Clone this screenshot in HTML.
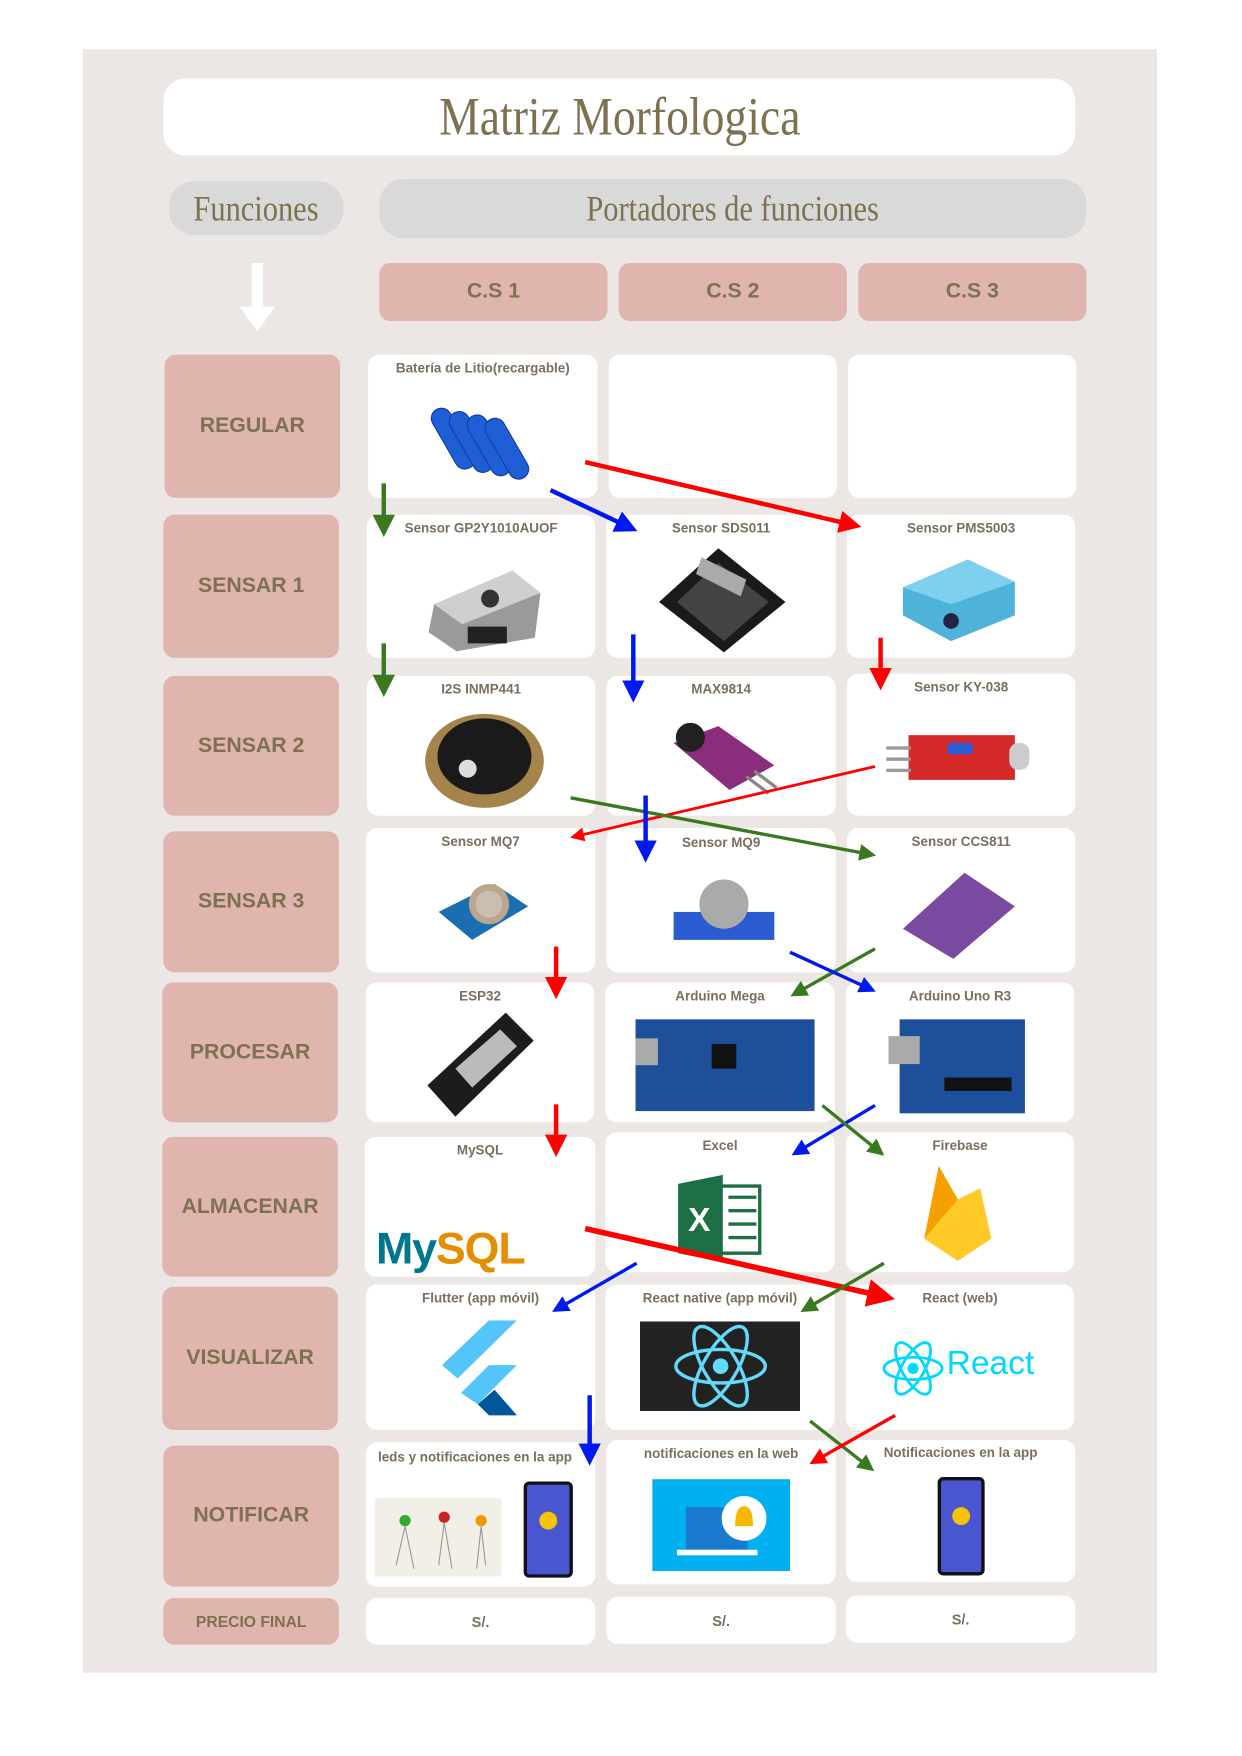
<!DOCTYPE html>
<html><head><meta charset="utf-8"><style>
html,body{margin:0;padding:0;background:#fff;width:1242px;height:1755px;overflow:hidden}
#s{position:absolute;left:0;top:0;width:1110px;height:1569px;transform:scale(1.11892);transform-origin:0 0;font-family:"Liberation Sans",sans-serif}
.a{position:absolute;box-sizing:border-box}
.panel{left:74px;top:44px;width:960px;height:1451px;background:#ece7e5}
.w{background:#fff;border-radius:10px}
.p{background:#e0b5ae;border-radius:10px;color:#7d7150;font-weight:bold;font-size:19px;display:flex;align-items:center;justify-content:center}
.g{background:#d9d9d9;border-radius:22px;color:#7d7150;font-family:"Liberation Serif",serif;font-size:32px;display:flex;align-items:center;justify-content:center;transform-origin:center}
.lb{position:absolute;left:0;right:0;top:5px;text-align:center;font-size:12px;font-weight:bold;color:#7a6f5f}
.c{position:absolute}
</style></head><body><div id="s">
<div class="a panel"></div>
<div class="a w" style="left:146px;top:70px;width:815px;height:69px;border-radius:20px;display:flex;align-items:center;justify-content:center;font-family:'Liberation Serif',serif;font-size:48px;color:#7d7150"><span style="display:inline-block;transform:scaleX(0.85)">Matriz Morfologica</span></div>
<div class="a g" style="left:151px;top:162px;width:156px;height:48px"><span style="display:inline-block;transform:scaleX(0.85)">Funciones</span></div>
<div class="a g" style="left:339px;top:160px;width:632px;height:53px"><span style="display:inline-block;transform:scaleX(0.85)">Portadores de funciones</span></div>
<div class="a" style="left:225px;top:235px;width:10px;height:40px;background:#fff"></div>
<div class="a" style="left:214px;top:274px;width:0;height:0;border-left:16px solid transparent;border-right:16px solid transparent;border-top:22px solid #fff"></div>
<div class="a p" style="left:339px;top:235px;width:204px;height:52px">C.S 1</div>
<div class="a p" style="left:553px;top:235px;width:204px;height:52px">C.S 2</div>
<div class="a p" style="left:767px;top:235px;width:204px;height:52px">C.S 3</div>

<div class="a p" style="left:147px;top:317px;width:157px;height:128px">REGULAR</div>
<div class="a p" style="left:146px;top:460px;width:157px;height:128px">SENSAR 1</div>
<div class="a p" style="left:146px;top:604px;width:157px;height:125px">SENSAR 2</div>
<div class="a p" style="left:146px;top:743px;width:157px;height:126px">SENSAR 3</div>
<div class="a p" style="left:145px;top:878px;width:157px;height:125px">PROCESAR</div>
<div class="a p" style="left:145px;top:1016px;width:157px;height:125px">ALMACENAR</div>
<div class="a p" style="left:145px;top:1150px;width:157px;height:128px">VISUALIZAR</div>
<div class="a p" style="left:146px;top:1292px;width:157px;height:126px">NOTIFICAR</div>
<div class="a p" style="left:146px;top:1428px;width:157px;height:42px;font-size:14px">PRECIO FINAL</div>

<!-- row 1 -->
<div class="a w" style="left:329px;top:317px;width:205px;height:128px"><div class="lb">Batería de Litio(recargable)</div>
<svg class="c" style="left:55px;top:30px" width="100" height="90"><g fill="#1f5fd6" stroke="#0f3ca0" stroke-width="1"><rect x="12" y="15" width="18" height="60" rx="9" transform="rotate(-30 21 45)"/><rect x="28" y="18" width="18" height="60" rx="9" transform="rotate(-30 37 48)"/><rect x="44" y="21" width="18" height="60" rx="9" transform="rotate(-30 53 51)"/><rect x="60" y="24" width="18" height="60" rx="9" transform="rotate(-30 69 54)"/></g></svg></div>
<div class="a w" style="left:544px;top:317px;width:204px;height:128px"></div>
<div class="a w" style="left:758px;top:317px;width:204px;height:128px"></div>
<!-- row 2 -->
<div class="a w" style="left:328px;top:460px;width:204px;height:128px"><div class="lb">Sensor GP2Y1010AUOF</div>
<svg class="c" style="left:50px;top:30px" width="110" height="95"><polygon points="10,50 80,20 105,40 100,80 30,92 5,75" fill="#9a9a9a"/><polygon points="10,50 80,20 105,40 35,68" fill="#cfcfcf"/><circle cx="60" cy="45" r="8" fill="#333"/><rect x="40" y="70" width="35" height="15" fill="#222"/></svg></div>
<div class="a w" style="left:542px;top:460px;width:205px;height:128px"><div class="lb">Sensor SDS011</div>
<svg class="c" style="left:45px;top:28px" width="120" height="98"><polygon points="55,2 115,50 60,95 2,50" fill="#1a1a1a"/><polygon points="55,15 100,50 60,85 18,50" fill="#444"/><polygon points="40,10 80,30 75,45 35,25" fill="#aaa"/></svg></div>
<div class="a w" style="left:757px;top:460px;width:204px;height:128px"><div class="lb">Sensor PMS5003</div>
<svg class="c" style="left:48px;top:35px" width="105" height="80"><polygon points="2,30 60,5 102,25 102,55 45,78 2,55" fill="#4fb3d9"/><polygon points="2,30 60,5 102,25 45,45" fill="#7fd0ee"/><circle cx="45" cy="60" r="7" fill="#224"/></svg></div>
<!-- row 3 -->
<div class="a w" style="left:328px;top:604px;width:204px;height:125px"><div class="lb">I2S INMP441</div>
<svg class="c" style="left:50px;top:28px" width="110" height="92"><ellipse cx="55" cy="48" rx="53" ry="42" fill="#a5844b"/><ellipse cx="55" cy="44" rx="42" ry="34" fill="#1a1a1a"/><circle cx="40" cy="55" r="8" fill="#ddd"/></svg></div>
<div class="a w" style="left:542px;top:604px;width:205px;height:125px"><div class="lb">MAX9814</div>
<svg class="c" style="left:50px;top:30px" width="110" height="80"><polygon points="10,30 50,15 100,50 60,72" fill="#8a2d7a"/><circle cx="25" cy="25" r="13" fill="#222"/><g stroke="#888" stroke-width="3"><line x1="75" y1="60" x2="95" y2="75"/><line x1="82" y1="55" x2="102" y2="70"/></g></svg></div>
<div class="a w" style="left:757px;top:602px;width:204px;height:127px"><div class="lb">Sensor KY-038</div>
<svg class="c" style="left:35px;top:50px" width="130" height="50"><rect x="20" y="5" width="95" height="40" fill="#d42a2a"/><rect x="0" y="15" width="22" height="3" fill="#999"/><rect x="0" y="25" width="22" height="3" fill="#999"/><rect x="0" y="35" width="22" height="3" fill="#999"/><rect x="110" y="12" width="18" height="24" rx="8" fill="#ccc"/><rect x="55" y="12" width="22" height="10" fill="#2c5fd6"/></svg></div>
<!-- row 4 -->
<div class="a w" style="left:327px;top:740px;width:205px;height:129px"><div class="lb">Sensor MQ7</div>
<svg class="c" style="left:60px;top:35px" width="100" height="80"><polygon points="5,40 55,15 85,35 35,65" fill="#1b6fb0"/><circle cx="50" cy="33" r="18" fill="#b8a78a"/><circle cx="50" cy="33" r="12" fill="#c9bfb0"/></svg></div>
<div class="a w" style="left:542px;top:740px;width:205px;height:129px"><div class="lb" style="top:6px">Sensor MQ9</div>
<svg class="c" style="left:55px;top:40px" width="100" height="70"><rect x="5" y="35" width="90" height="25" fill="#2a5bd0"/><ellipse cx="50" cy="28" rx="22" ry="22" fill="#aaa"/></svg></div>
<div class="a w" style="left:757px;top:740px;width:204px;height:129px"><div class="lb">Sensor CCS811</div>
<svg class="c" style="left:45px;top:35px" width="110" height="85"><polygon points="5,55 60,5 105,35 50,82" fill="#7a4aa0"/></svg></div>
<!-- row 5 -->
<div class="a w" style="left:327px;top:878px;width:204px;height:125px"><div class="lb">ESP32</div>
<svg class="c" style="left:50px;top:22px" width="105" height="100"><polygon points="5,70 75,5 100,30 30,98" fill="#1c1c1c"/><polygon points="30,55 70,20 85,35 45,72" fill="#bbb"/></svg></div>
<div class="a w" style="left:541px;top:878px;width:205px;height:125px"><div class="lb">Arduino Mega</div>
<svg class="c" style="left:25px;top:30px" width="165" height="88"><rect x="2" y="3" width="160" height="82" fill="#1e4f9a"/><rect x="70" y="25" width="22" height="22" fill="#111"/><rect x="2" y="20" width="20" height="24" fill="#aaa"/></svg></div>
<div class="a w" style="left:756px;top:878px;width:204px;height:125px"><div class="lb">Arduino Uno R3</div>
<svg class="c" style="left:38px;top:30px" width="125" height="90"><rect x="10" y="3" width="112" height="84" fill="#1e4f9a"/><rect x="0" y="18" width="28" height="25" fill="#aaa"/><rect x="50" y="55" width="60" height="12" fill="#111"/></svg></div>
<!-- row 6 -->
<div class="a w" style="left:326px;top:1016px;width:206px;height:125px"><div class="lb" style="font-weight:bold">MySQL</div>
<div class="c" style="left:10px;top:78px;font-size:40px;font-weight:bold;color:#00758f;letter-spacing:-1px">My<span style="color:#e48e00">SQL</span></div></div>
<div class="a w" style="left:541px;top:1012px;width:205px;height:125px"><div class="lb">Excel</div>
<svg class="c" style="left:65px;top:38px" width="75" height="78"><rect x="35" y="10" width="38" height="60" fill="#fff" stroke="#1d7044" stroke-width="3"/><g stroke="#1d7044" stroke-width="3"><line x1="45" y1="20" x2="70" y2="20"/><line x1="45" y1="32" x2="70" y2="32"/><line x1="45" y1="44" x2="70" y2="44"/><line x1="45" y1="56" x2="70" y2="56"/></g><polygon points="0,8 40,0 40,78 0,70" fill="#1d7044"/><text x="9" y="50" fill="#fff" font-size="30" font-weight="bold" font-family="Liberation Sans">X</text></svg></div>
<div class="a w" style="left:756px;top:1012px;width:204px;height:125px"><div class="lb">Firebase</div>
<svg class="c" style="left:65px;top:30px" width="70" height="88"><polygon points="5,65 18,0 35,30 55,20 65,65 35,85" fill="#ffca28"/><polygon points="5,65 18,0 35,30" fill="#f6a000"/></svg></div>
<!-- row 7 -->
<div class="a w" style="left:327px;top:1148px;width:205px;height:130px"><div class="lb">Flutter (app móvil)</div>
<svg class="c" style="left:65px;top:32px" width="80" height="90"><polygon points="3,40 45,0 70,0 17,52" fill="#54c5f8"/><polygon points="20,65 45,40 70,40 35,75" fill="#54c5f8"/><polygon points="35,75 50,62 70,85 45,85" fill="#01579b"/></svg></div>
<div class="a w" style="left:541px;top:1148px;width:205px;height:130px"><div class="lb">React native (app móvil)</div>
<svg class="c" style="left:31px;top:33px" width="143" height="80"><rect width="143" height="80" fill="#222"/><g fill="none" stroke="#61dafb" stroke-width="3"><ellipse cx="72" cy="40" rx="40" ry="15"/><ellipse cx="72" cy="40" rx="40" ry="15" transform="rotate(60 72 40)"/><ellipse cx="72" cy="40" rx="40" ry="15" transform="rotate(-60 72 40)"/></g><circle cx="72" cy="40" r="7" fill="#61dafb"/></svg></div>
<div class="a w" style="left:756px;top:1148px;width:204px;height:130px"><div class="lb">React (web)</div>
<svg class="c" style="left:30px;top:45px" width="60" height="60"><g fill="none" stroke="#00d8ff" stroke-width="2.5"><ellipse cx="30" cy="30" rx="26" ry="10"/><ellipse cx="30" cy="30" rx="26" ry="10" transform="rotate(60 30 30)"/><ellipse cx="30" cy="30" rx="26" ry="10" transform="rotate(-60 30 30)"/></g><circle cx="30" cy="30" r="5" fill="#00d8ff"/></svg>
<div class="c" style="left:90px;top:54px;font-size:30px;color:#00d8ff">React</div></div>
<!-- row 8 -->
<div class="a w" style="left:327px;top:1289px;width:205px;height:129px"><div class="lb" style="top:6px;left:-10px">leds y notificaciones en la app</div>
<div class="c" style="left:8px;top:50px;width:113px;height:70px;background:#f1efe6"></div>
<svg class="c" style="left:15px;top:55px" width="105" height="60"><circle cx="20" cy="15" r="5" fill="#3a3"/><circle cx="55" cy="12" r="5" fill="#c22"/><circle cx="88" cy="15" r="5" fill="#e90"/><g stroke="#999"><line x1="20" y1="20" x2="12" y2="55"/><line x1="20" y1="20" x2="28" y2="58"/><line x1="55" y1="17" x2="50" y2="55"/><line x1="55" y1="17" x2="62" y2="58"/><line x1="88" y1="20" x2="84" y2="58"/><line x1="88" y1="20" x2="92" y2="55"/></g></svg>
<div class="c" style="left:141px;top:35px;width:44px;height:86px;background:#4a55d0;border:3px solid #111;border-radius:5px;box-sizing:border-box"><div style="margin:24px auto 0;width:16px;height:16px;border-radius:50%;background:#f5c400"></div></div></div>
<div class="a w" style="left:542px;top:1287px;width:205px;height:129px"><div class="lb">notificaciones en la web</div>
<div class="c" style="left:41px;top:35px;width:123px;height:82px;background:#00b0f0"></div>
<svg class="c" style="left:41px;top:35px" width="123" height="82"><rect x="30" y="25" width="55" height="38" fill="#1a7ad0"/><rect x="22" y="63" width="72" height="5" fill="#fff"/><circle cx="82" cy="35" r="20" fill="#fff"/><path d="M74,42 Q74,24 82,24 Q90,24 90,42 Z" fill="#f5b800"/></svg></div>
<div class="a w" style="left:756px;top:1287px;width:205px;height:127px"><div class="lb" style="top:4px">Notificaciones en la app</div>
<div class="c" style="left:82px;top:33px;width:42px;height:88px;background:#4a55d0;border:3px solid #111;border-radius:5px;box-sizing:border-box"><div style="margin:24px auto 0;width:16px;height:16px;border-radius:50%;background:#f5c400"></div></div></div>
<!-- price -->
<div class="a w" style="left:327px;top:1428px;width:205px;height:42px;display:flex;align-items:center;justify-content:center;color:#7a6f5f;font-size:13px;font-weight:bold">S/.</div>
<div class="a w" style="left:542px;top:1427px;width:205px;height:42px;display:flex;align-items:center;justify-content:center;color:#7a6f5f;font-size:13px;font-weight:bold">S/.</div>
<div class="a w" style="left:756px;top:1426px;width:205px;height:42px;display:flex;align-items:center;justify-content:center;color:#7a6f5f;font-size:13px;font-weight:bold">S/.</div>

<svg class="a" style="left:0;top:0" width="1110" height="1569">
<defs>
<marker id="r" markerWidth="5" markerHeight="5" refX="4" refY="2.5" orient="auto"><polygon points="0,0 5,2.5 0,5" fill="#f00"/></marker>
<marker id="b" markerWidth="5" markerHeight="5" refX="4" refY="2.5" orient="auto"><polygon points="0,0 5,2.5 0,5" fill="#0019f0"/></marker>
<marker id="gr" markerWidth="5" markerHeight="5" refX="4" refY="2.5" orient="auto"><polygon points="0,0 5,2.5 0,5" fill="#3a7a1e"/></marker>
</defs>
<g stroke-width="4" fill="none">
<line x1="343" y1="432" x2="343" y2="476" stroke="#3a7a1e" marker-end="url(#gr)"/>
<line x1="492" y1="438" x2="566" y2="473" stroke="#0019f0" marker-end="url(#b)"/>
<line x1="523" y1="413" x2="766" y2="470" stroke="#f00" marker-end="url(#r)"/>
<line x1="343" y1="575" x2="343" y2="619" stroke="#3a7a1e" marker-end="url(#gr)"/>
<line x1="566" y1="567" x2="566" y2="624" stroke="#0019f0" marker-end="url(#b)"/>
<line x1="787" y1="570" x2="787" y2="613" stroke="#f00" marker-end="url(#r)"/>
<line x1="782" y1="685" x2="512" y2="748" stroke="#f00" stroke-width="2.5" marker-end="url(#r)"/>
<line x1="510" y1="713" x2="780" y2="764" stroke="#3a7a1e" stroke-width="3" marker-end="url(#gr)"/>
<line x1="577" y1="711" x2="577" y2="767" stroke="#0019f0" marker-end="url(#b)"/>
<line x1="497" y1="846" x2="497" y2="889" stroke="#f00" marker-end="url(#r)"/>
<line x1="782" y1="848" x2="709" y2="889" stroke="#3a7a1e" stroke-width="3" marker-end="url(#gr)"/>
<line x1="706" y1="851" x2="780" y2="885" stroke="#0019f0" stroke-width="3" marker-end="url(#b)"/>
<line x1="497" y1="987" x2="497" y2="1030" stroke="#f00" marker-end="url(#r)"/>
<line x1="782" y1="988" x2="710" y2="1031" stroke="#0019f0" stroke-width="3" marker-end="url(#b)"/>
<line x1="735" y1="988" x2="788" y2="1031" stroke="#3a7a1e" stroke-width="3" marker-end="url(#gr)"/>
<line x1="523" y1="1098" x2="795" y2="1160" stroke="#f00" stroke-width="5" marker-end="url(#r)"/>
<line x1="569" y1="1129" x2="496" y2="1171" stroke="#0019f0" stroke-width="3" marker-end="url(#b)"/>
<line x1="790" y1="1129" x2="718" y2="1171" stroke="#3a7a1e" stroke-width="3" marker-end="url(#gr)"/>
<line x1="527" y1="1247" x2="527" y2="1306" stroke="#0019f0" marker-end="url(#b)"/>
<line x1="724" y1="1270" x2="779" y2="1313" stroke="#3a7a1e" stroke-width="3" marker-end="url(#gr)"/>
<line x1="800" y1="1265" x2="726" y2="1307" stroke="#f00" stroke-width="3" marker-end="url(#r)"/>
</g></svg>
</div></body></html>
